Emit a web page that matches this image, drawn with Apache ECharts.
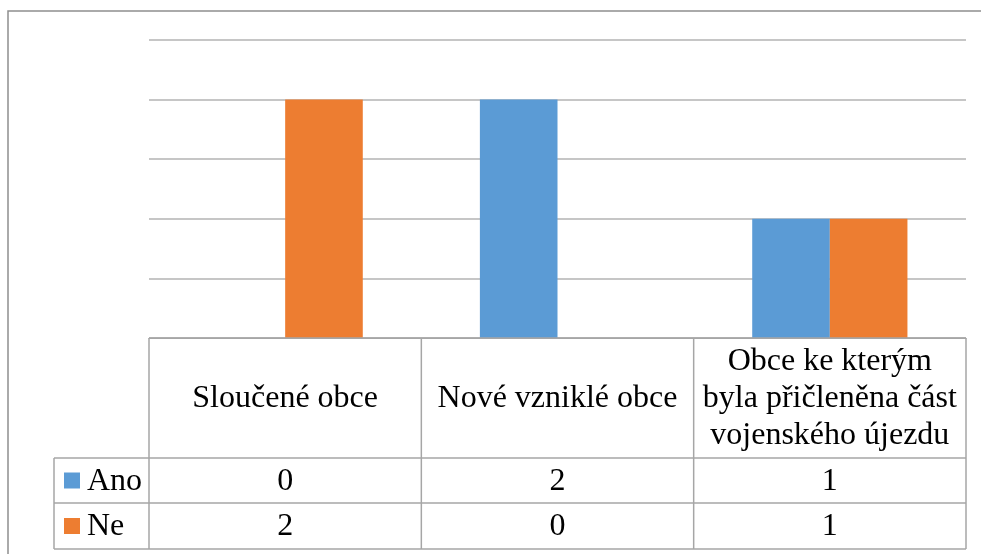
<!DOCTYPE html>
<html><head><meta charset="utf-8">
<script src="https://cdn.jsdelivr.net/npm/echarts@6/dist/echarts.min.js"></script>
<style>html,body{margin:0;padding:0;background:#fff}#c{width:981px;height:554px}</style>
</head><body><div id="c"></div>
<script>
const categories = ['Sloučené obce', 'Nové vzniklé obce', 'Obce ke kterým\nbyla přičleněna část\nvojenského újezdu'];
const seriesNames = ['Ano', 'Ne'];
const anoValues = [0, 2, 1];
const neValues = [2, 0, 1];
const colors = ['#5B9BD5', '#ED7D31'];
const yTicks = { min: 0, max: 2.5, interval: 0.5 };

const FONT = '"Liberation Serif", "Times New Roman", serif';
const LINE = '#a6a6a6';
const chart = echarts.init(document.getElementById('c'), null, { renderer: 'canvas' });
const base = {
  animation: false,
  backgroundColor: '#fff',
  grid: { left: 149, right: 15, top: 40, bottom: 216, containLabel: false },
  xAxis: {
    type: 'category', data: categories,
    axisLine: { show: true, lineStyle: { color: LINE, width: 1 } },
    axisTick: { show: false }, axisLabel: { show: false }, splitLine: { show: false }
  },
  yAxis: {
    type: 'value', min: yTicks.min, max: yTicks.max, interval: yTicks.interval,
    axisLine: { show: false }, axisTick: { show: false }, axisLabel: { show: false },
    splitLine: { show: true, lineStyle: { color: '#b3b3b3', width: 1.5 } }
  },
  series: [
    { name: seriesNames[0], type: 'bar', data: anoValues, itemStyle: { color: colors[0] }, barGap: '0%', barCategoryGap: '43%' },
    { name: seriesNames[1], type: 'bar', data: neValues, itemStyle: { color: colors[1] }, barGap: '0%', barCategoryGap: '43%' }
  ]
};
chart.setOption(base);

const c0 = chart.convertToPixel({ xAxisIndex: 0 }, 0);
const c1 = chart.convertToPixel({ xAxisIndex: 0 }, 1);
const bw = c1 - c0;
const y0 = chart.convertToPixel({ yAxisIndex: 0 }, 0);
const leftX = c0 - bw / 2;
const rightX = leftX + bw * categories.length;
const headerBottom = y0 + 120;
const row1Bottom = headerBottom + 45;
const row2Bottom = row1Bottom + 46;
const keyLeft = 54;

const g = [];
function hline(x1, x2, y) { g.push({ type: 'line', shape: { x1, y1: y, x2, y2: y }, style: { stroke: LINE, lineWidth: 1.5 }, z: 10 }); }
function vline(x, y1, y2) { g.push({ type: 'line', shape: { x1: x, y1, x2: x, y2 }, style: { stroke: LINE, lineWidth: 1.5 }, z: 10 }); }
function text(str, x, y, align) {
  g.push({ type: 'text', x, y, z: 11, style: { text: str, fontFamily: FONT, fontSize: 32, lineHeight: 37, fill: '#000', align: align || 'center', verticalAlign: 'middle' } });
}
// frame
g.push({ type: 'rect', shape: { x: 8, y: 11, width: 1000, height: 600 }, style: { fill: 'none', stroke: '#8f8f8f', lineWidth: 1.5 }, z: 1 });
hline(leftX, rightX, y0);
hline(keyLeft, rightX, headerBottom);
hline(keyLeft, rightX, row1Bottom);
hline(keyLeft, rightX, row2Bottom);
for (let i = 0; i <= categories.length; i++) vline(leftX + i * bw, y0, row2Bottom);
vline(keyLeft, headerBottom, row2Bottom);

const rows = [anoValues, neValues];
const rowTops = [headerBottom, row1Bottom];
const rowBots = [row1Bottom, row2Bottom];
categories.forEach((cat, i) => {
  const cx = chart.convertToPixel({ xAxisIndex: 0 }, i);
  text(cat, cx, (y0 + headerBottom) / 2 + 1);
  rows.forEach((vals, r) => text(String(vals[i]), cx, (rowTops[r] + rowBots[r]) / 2 + 1));
});
seriesNames.forEach((n, r) => {
  const cy = (rowTops[r] + rowBots[r]) / 2;
  g.push({ type: 'rect', shape: { x: 64, y: cy - 8, width: 16, height: 16 }, style: { fill: colors[r] }, z: 11 });
  text(n, 87, cy + 1, 'left');
});
chart.setOption({ graphic: g });
</script></body></html>
